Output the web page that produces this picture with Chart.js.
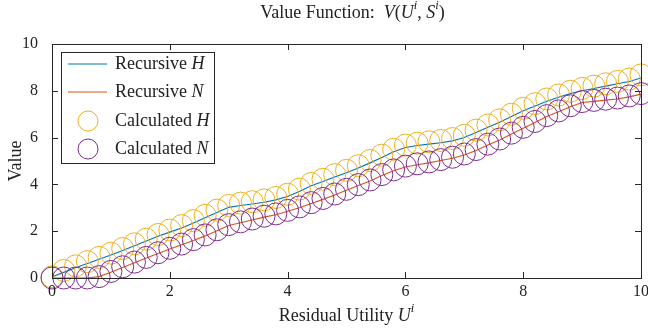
<!DOCTYPE html>
<html>
<head>
<meta charset="utf-8">
<script src="https://cdn.jsdelivr.net/npm/chart.js@4"></script>
<style>
  html, body { margin: 0; padding: 0; background: #fff; }
  #chart { display: block; }
</style>
</head>
<body>
<canvas id="chart" width="648" height="332"></canvas>
<script>
// residual utility grid
const xs = [0, 0.2, 0.4, 0.6, 0.8, 1, 1.2, 1.4, 1.6, 1.8, 2, 2.2, 2.4, 2.6, 2.8, 3, 3.2, 3.4, 3.6, 3.8,
    4, 4.2, 4.4, 4.6, 4.8, 5, 5.2, 5.4, 5.6, 5.8, 6, 6.2, 6.4, 6.6, 6.8, 7, 7.2, 7.4, 7.6, 7.8,
    8, 8.2, 8.4, 8.6, 8.8, 9, 9.2, 9.4, 9.6, 9.8, 10]

const recursiveH = [0.05, 0.24, 0.44, 0.62, 0.80, 0.98, 1.18, 1.38, 1.58, 1.78, 1.96, 2.14, 2.35, 2.58, 2.80, 3.02, 3.10, 3.16, 3.24, 3.34,
    3.48, 3.70, 3.94, 4.12, 4.32, 4.50, 4.70, 4.92, 5.15, 5.40, 5.58, 5.66, 5.72, 5.78, 5.86, 6.00, 6.22, 6.44, 6.66, 6.90,
    7.15, 7.35, 7.55, 7.72, 7.88, 8.00, 8.10, 8.20, 8.30, 8.40, 8.55]
const recursiveN = [0, 0, 0, 0, 0.06, 0.25, 0.45, 0.65, 0.85, 1.05, 1.24, 1.42, 1.60, 1.80, 2.02, 2.24, 2.36, 2.48, 2.60, 2.70,
    2.85, 3.00, 3.18, 3.36, 3.55, 3.75, 3.95, 4.15, 4.38, 4.58, 4.74, 4.84, 4.92, 5.02, 5.12, 5.26, 5.45, 5.68, 5.90, 6.15,
    6.40, 6.65, 6.90, 7.10, 7.32, 7.50, 7.55, 7.60, 7.65, 7.74, 7.86]
const calculatedH = [0.05, 0.32, 0.52, 0.70, 0.88, 1.06, 1.26, 1.46, 1.66, 1.86, 2.05, 2.24, 2.45, 2.68, 2.90, 3.10, 3.20, 3.26, 3.34, 3.44,
    3.58, 3.80, 4.04, 4.22, 4.42, 4.60, 4.80, 5.02, 5.25, 5.50, 5.68, 5.76, 5.82, 5.88, 5.96, 6.10, 6.32, 6.54, 6.76, 7.00,
    7.25, 7.45, 7.65, 7.82, 7.98, 8.10, 8.20, 8.30, 8.40, 8.50, 8.68]
const calculatedN = [0, 0, 0, 0, 0.06, 0.28, 0.48, 0.68, 0.88, 1.08, 1.27, 1.45, 1.64, 1.84, 2.06, 2.28, 2.40, 2.52, 2.64, 2.74,
    2.89, 3.04, 3.22, 3.40, 3.59, 3.79, 3.99, 4.19, 4.42, 4.62, 4.78, 4.88, 4.96, 5.06, 5.16, 5.30, 5.49, 5.72, 5.94, 6.19,
    6.44, 6.69, 6.94, 7.14, 7.36, 7.54, 7.59, 7.64, 7.69, 7.78, 7.88]

const xTicks = [0, 2, 4, 6, 8, 10]
const yTicks = [0, 2, 4, 6, 8, 10]

const blue = '#0072BD'
const red = '#D95319'
const yellow = '#EDB120'
const purple = '#7E2F8E'
const serif = '"Liberation Serif", "DejaVu Serif", serif'

function pts(ys) {
    return xs.map((x, i) => ({ x: x, y: ys[i] }))
}

// draws text made of pieces: {t, it (italic), sup (superscript)}
function richText(ctx, pieces, x, y, size, align) {
    const fontFor = p => (p.it ? 'italic ' : '') + (p.sup ? size * 0.7 : size) + 'px ' + serif
    let w = 0
    pieces.forEach(p => { ctx.font = fontFor(p); w += ctx.measureText(p.t).width })
    let cx = align === 'center' ? x - w / 2 : x
    ctx.textBaseline = 'middle'
    ctx.textAlign = 'left'
    pieces.forEach(p => {
        ctx.font = fontFor(p)
        ctx.fillText(p.t, cx, p.sup ? y - size * 0.38 : y)
        cx += ctx.measureText(p.t).width
    })
}

const framePlugin = {
    id: 'frame',
    afterDatasetsDraw(chart) {
        const ctx = chart.ctx
        const a = chart.chartArea
        const xs_ = chart.scales.x, ys_ = chart.scales.y
        ctx.save()
        ctx.strokeStyle = '#262626'
        ctx.lineWidth = 1
        ctx.strokeRect(Math.round(a.left) + 0.5, Math.round(a.top) + 0.5, Math.round(a.right - a.left), Math.round(a.bottom - a.top))
        ctx.beginPath()
        xTicks.forEach(v => {
            const px = Math.round(xs_.getPixelForValue(v)) + 0.5
            ctx.moveTo(px, a.bottom); ctx.lineTo(px, a.bottom - 6)
            ctx.moveTo(px, a.top); ctx.lineTo(px, a.top + 6)
        })
        yTicks.forEach(v => {
            const py = Math.round(ys_.getPixelForValue(v)) + 0.5
            ctx.moveTo(a.left, py); ctx.lineTo(a.left + 6, py)
            ctx.moveTo(a.right, py); ctx.lineTo(a.right - 6, py)
        })
        ctx.stroke()
        // x tick labels
        ctx.fillStyle = '#222'
        ctx.font = '16px ' + serif
        ctx.textAlign = 'center'
        ctx.textBaseline = 'middle'
        xTicks.forEach(v => ctx.fillText(String(v), xs_.getPixelForValue(v), a.bottom + 14))
        ctx.restore()
    },
    afterDraw(chart) {
        const ctx = chart.ctx
        const a = chart.chartArea
        ctx.save()
        ctx.fillStyle = '#222'
        // title
        richText(ctx, [{ t: 'Value Function:  ' }, { t: 'V', it: true }, { t: '(' }, { t: 'U', it: true }, { t: 'i', it: true, sup: true },
            { t: ', ' }, { t: 'S', it: true }, { t: 'i', it: true, sup: true }, { t: ')' }], (a.left + a.right) / 2 + 6, 13, 18, 'center')
        // x title
        richText(ctx, [{ t: 'Residual Utility ' }, { t: 'U', it: true }, { t: 'i', it: true, sup: true }], (a.left + a.right) / 2, 316, 18, 'center')
        // y title
        ctx.save()
        ctx.translate(16, (a.top + a.bottom) / 2)
        ctx.rotate(-Math.PI / 2)
        richText(ctx, [{ t: 'Value' }], 0, 0, 18, 'center')
        ctx.restore()

        // legend
        const lx = 61, ly = 52, lw = 153, lh = 111
        ctx.fillStyle = '#fff'
        ctx.fillRect(lx, ly, lw, lh)
        ctx.strokeStyle = '#262626'
        ctx.lineWidth = 1
        ctx.strokeRect(lx + 0.5, ly + 0.5, lw, lh)
        const rows = [
            { name: 'Recursive ', sym: 'H', color: blue, kind: 'line', y: 64 },
            { name: 'Recursive ', sym: 'N', color: red, kind: 'line', y: 92 },
            { name: 'Calculated ', sym: 'H', color: yellow, kind: 'circle', y: 121 },
            { name: 'Calculated ', sym: 'N', color: purple, kind: 'circle', y: 149 }
        ]
        rows.forEach(r => {
            ctx.strokeStyle = r.color
            ctx.lineWidth = 1
            ctx.beginPath()
            if (r.kind === 'line') {
                ctx.moveTo(68, r.y); ctx.lineTo(107, r.y)
            } else {
                ctx.arc(88, r.y, 10, 0, Math.PI * 2)
            }
            ctx.stroke()
            ctx.fillStyle = '#222'
            richText(ctx, [{ t: r.name }, { t: r.sym, it: true }], 115, r.y, 18, 'left')
        })
        ctx.restore()
    }
}

const ctx = document.getElementById('chart')
new Chart(ctx, {
    type: 'scatter',
    data: {
        datasets: [
            { label: 'Recursive H', data: pts(recursiveH), showLine: true, borderColor: blue, borderWidth: 1.1, pointRadius: 0, order: 4 },
            { label: 'Recursive N', data: pts(recursiveN), showLine: true, borderColor: red, borderWidth: 1.1, pointRadius: 0, order: 3 },
            { label: 'Calculated H', data: pts(calculatedH), showLine: false, borderColor: yellow, backgroundColor: 'rgba(0,0,0,0)',
              pointRadius: 11, pointBorderWidth: 1, clip: false, order: 2 },
            { label: 'Calculated N', data: pts(calculatedN), showLine: false, borderColor: purple, backgroundColor: 'rgba(0,0,0,0)',
              pointRadius: 11, pointBorderWidth: 1, clip: false, order: 1 }
        ]
    },
    options: {
        responsive: false,
        animation: false,
        devicePixelRatio: 1,
        layout: { autoPadding: false, padding: { top: 44, right: 7, left: 0, bottom: 0 } },
        plugins: {
            legend: { display: false },
            tooltip: { enabled: false }
        },
        scales: {
            x: {
                type: 'linear', min: 0, max: 10,
                afterFit: s => { s.height = 54 },
                grid: { display: false },
                border: { display: false },
                ticks: { display: false }
            },
            y: {
                type: 'linear', min: 0, max: 10,
                afterFit: s => { s.width = 52 },
                afterBuildTicks: s => { s.ticks = yTicks.map(v => ({ value: v })) },
                grid: { display: false },
                border: { display: false },
                ticks: { padding: 6, color: '#222', font: { family: serif, size: 16 } }
            }
        }
    },
    plugins: [framePlugin]
})
</script>
</body>
</html>
